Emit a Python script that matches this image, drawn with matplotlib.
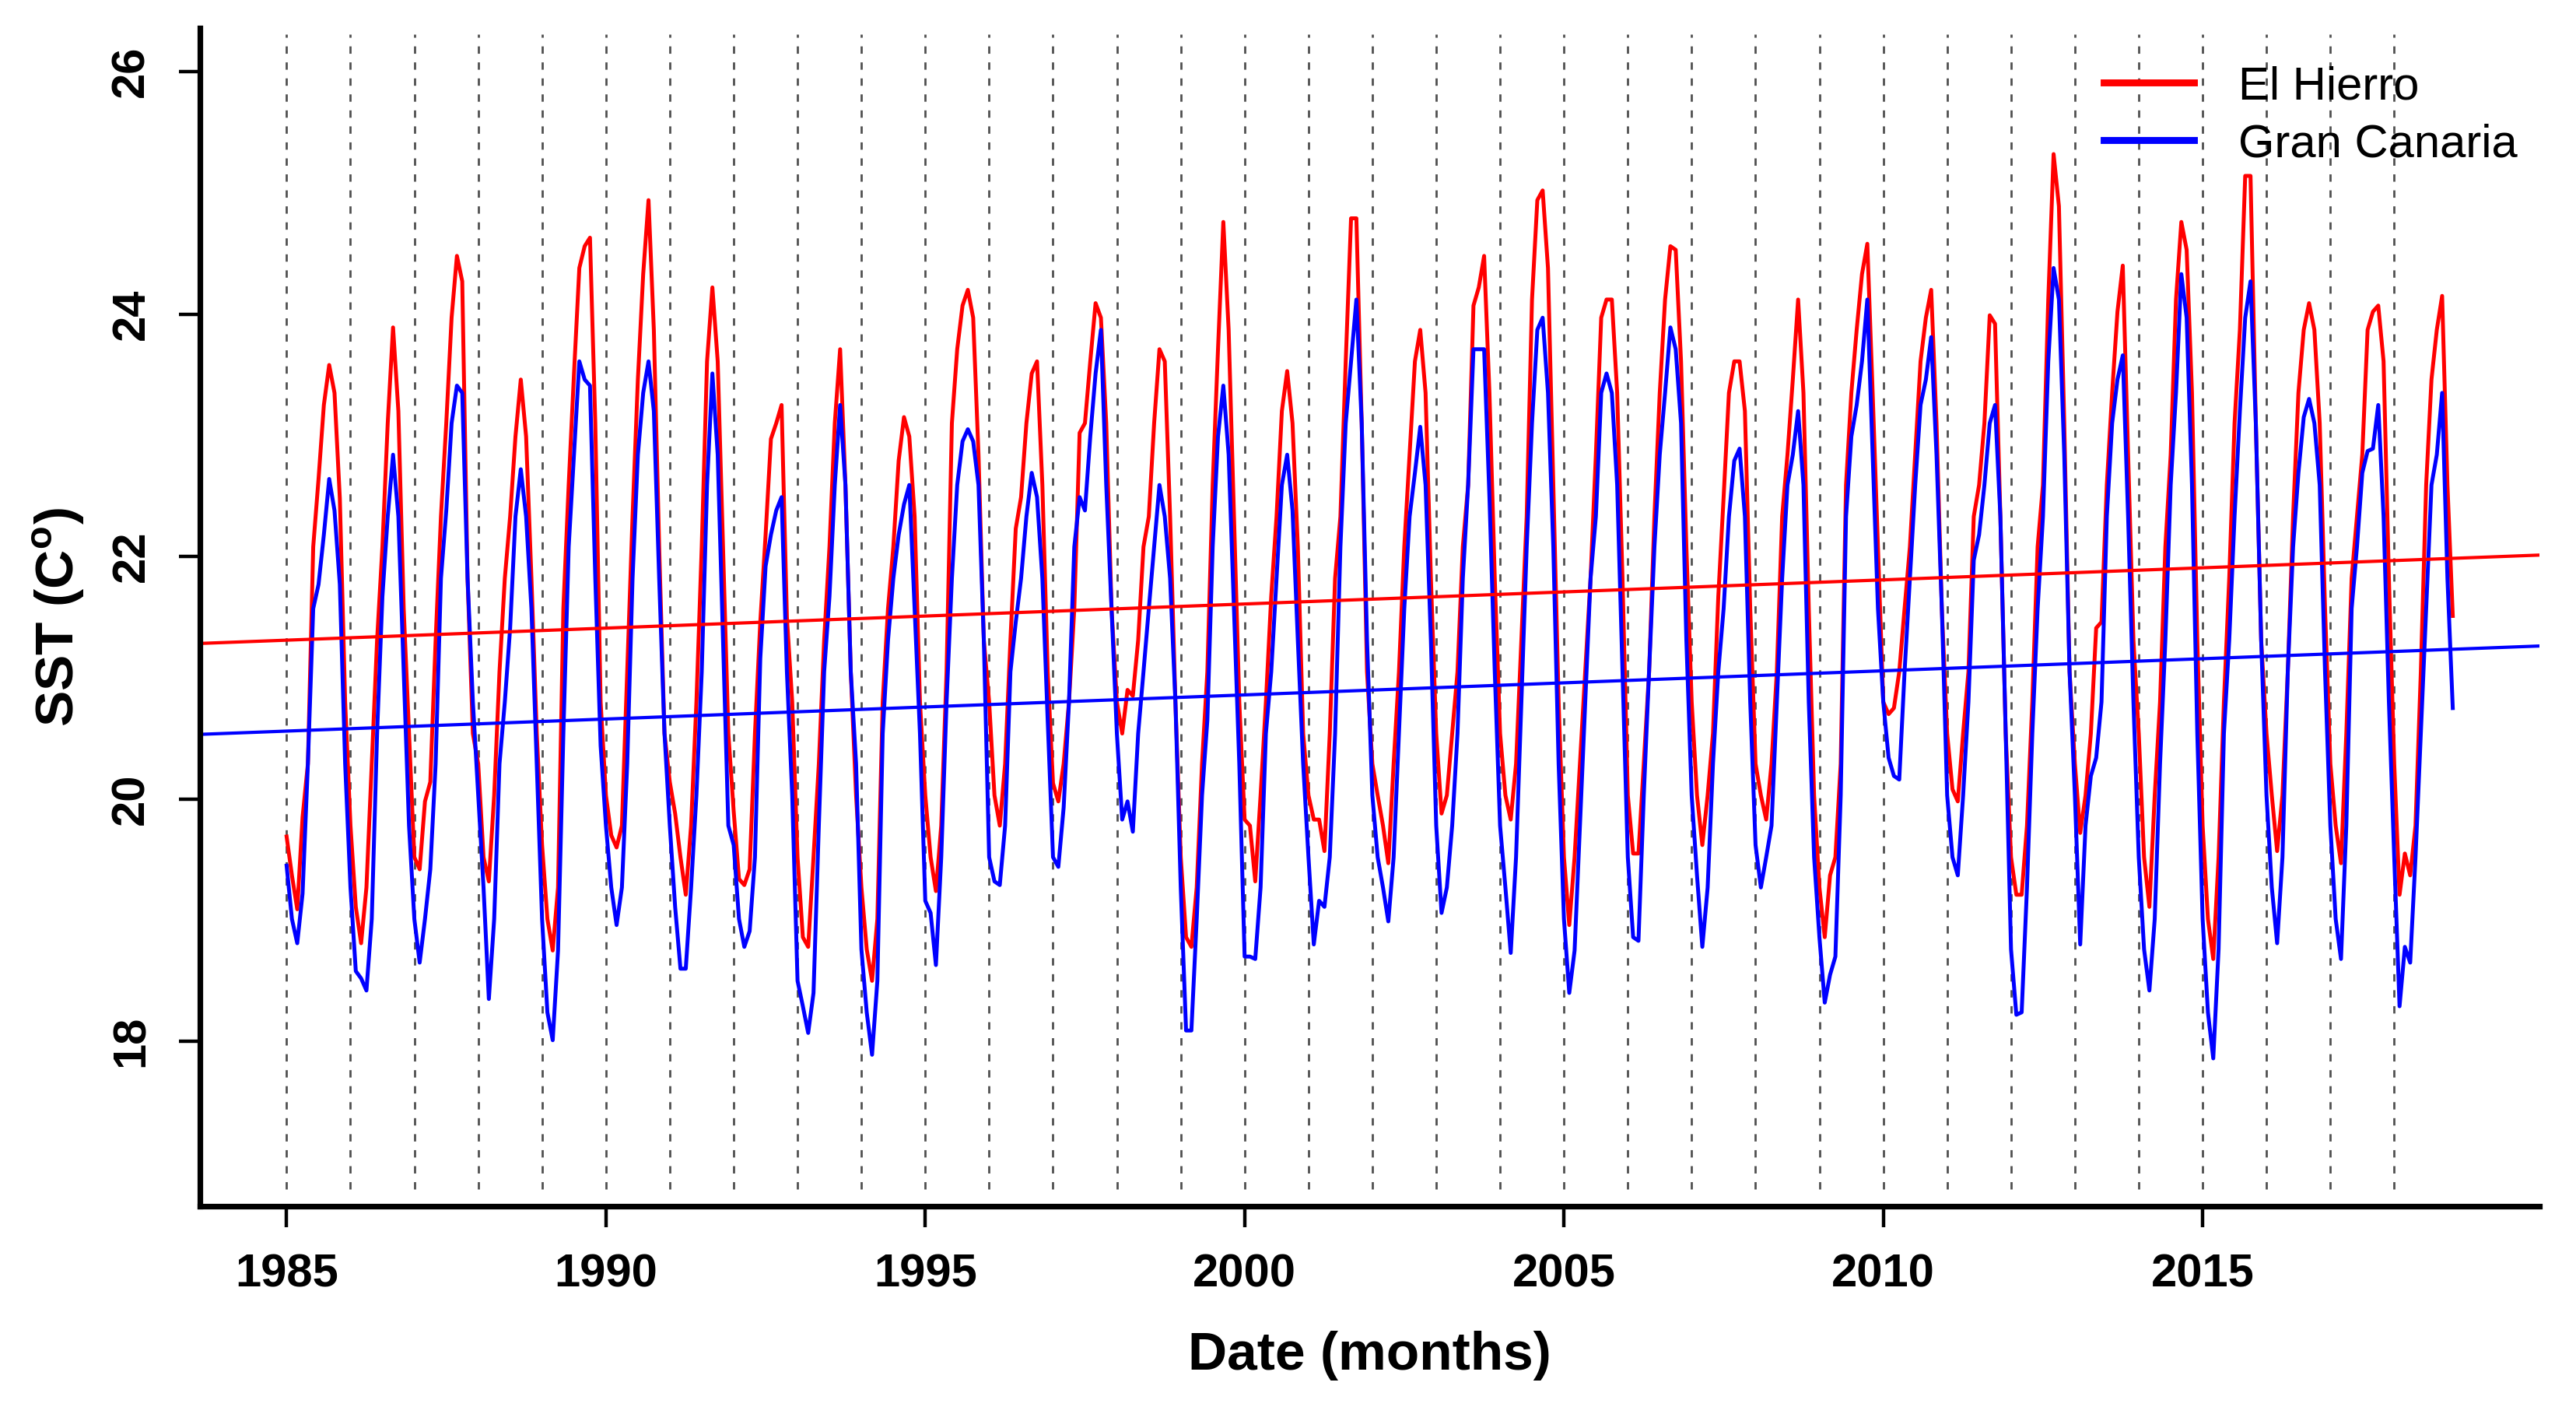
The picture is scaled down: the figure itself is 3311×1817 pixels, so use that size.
import numpy as np
import matplotlib
matplotlib.use('Agg')
import matplotlib.pyplot as plt
from matplotlib.lines import Line2D

plt.rcParams['font.family'] = ['Liberation Sans', 'DejaVu Sans']
plt.rcParams['mathtext.fontset'] = 'custom'
plt.rcParams['mathtext.rm'] = 'Liberation Sans:bold'
plt.rcParams['mathtext.bf'] = 'Liberation Sans:bold'
plt.rcParams['lines.scale_dashes'] = False

# monthly SST, Jan 1985 - Dec 2018 (one row per year)
start_year = 1985
el_hierro = [
    19.69, 19.37, 19.09, 19.85, 20.29, 22.08, 22.64, 23.25, 23.58, 23.35, 22.48, 20.80,  # 1985
    19.78, 19.11, 18.81, 19.27, 20.29, 21.31, 22.08, 23.10, 23.89, 23.20, 21.57, 20.54,  # 1986
    19.52, 19.42, 19.98, 20.14, 21.31, 22.33, 23.10, 23.97, 24.48, 24.27, 21.82, 20.54,  # 1987
    20.29, 19.52, 19.32, 20.03, 21.05, 21.82, 22.33, 22.99, 23.46, 22.99, 21.82, 20.54,  # 1988
    19.62, 19.01, 18.75, 19.27, 21.57, 22.59, 23.51, 24.38, 24.56, 24.63, 23.10, 20.80,  # 1989
    20.03, 19.70, 19.60, 19.78, 21.05, 22.33, 23.46, 24.33, 24.94, 23.87, 22.08, 20.54,  # 1990
    20.14, 19.88, 19.52, 19.21, 19.78, 20.80, 22.08, 23.61, 24.22, 23.61, 22.08, 20.54,  # 1991
    19.90, 19.34, 19.29, 19.42, 20.54, 21.46, 22.18, 22.97, 23.10, 23.25, 21.50, 20.80,  # 1992
    19.52, 18.86, 18.78, 19.52, 20.29, 21.31, 22.08, 23.10, 23.71, 22.59, 21.05, 20.03,  # 1993
    19.27, 18.76, 18.50, 19.01, 20.80, 21.57, 22.08, 22.79, 23.15, 22.99, 22.33, 20.80,  # 1994
    20.03, 19.52, 19.24, 19.78, 21.05, 23.10, 23.71, 24.07, 24.20, 23.97, 22.84, 21.31,  # 1995
    20.80, 20.03, 19.78, 20.29, 21.31, 22.23, 22.49, 23.10, 23.51, 23.61, 22.59, 21.05,  # 1996
    20.13, 19.98, 20.29, 20.80, 21.57, 23.02, 23.10, 23.61, 24.09, 23.97, 23.10, 21.57,  # 1997
    20.80, 20.54, 20.90, 20.85, 21.31, 22.08, 22.33, 23.10, 23.71, 23.61, 22.33, 20.80,  # 1998
    19.52, 18.86, 18.78, 19.27, 20.29, 21.05, 22.59, 23.71, 24.76, 23.87, 22.33, 20.80,  # 1999
    19.83, 19.78, 19.32, 20.03, 20.80, 21.67, 22.33, 23.20, 23.53, 23.10, 22.08, 20.54,  # 2000
    20.03, 19.83, 19.83, 19.57, 20.54, 21.82, 22.33, 23.61, 24.79, 24.79, 23.10, 21.05,  # 2001
    20.29, 20.03, 19.78, 19.47, 20.29, 21.05, 22.08, 22.84, 23.61, 23.87, 23.35, 21.82,  # 2002
    20.54, 19.88, 20.03, 20.54, 21.05, 22.08, 22.59, 24.07, 24.22, 24.48, 23.35, 21.82,  # 2003
    20.54, 20.03, 19.83, 20.29, 21.31, 22.33, 24.12, 24.94, 25.02, 24.38, 22.59, 20.80,  # 2004
    19.52, 18.96, 19.52, 20.29, 21.05, 21.82, 22.84, 23.97, 24.12, 24.12, 23.35, 21.82,  # 2005
    20.03, 19.55, 19.55, 20.29, 21.05, 22.33, 23.35, 24.12, 24.56, 24.53, 23.61, 22.08,  # 2006
    20.80, 20.03, 19.62, 20.03, 20.54, 21.67, 22.49, 23.35, 23.61, 23.61, 23.20, 21.57,  # 2007
    20.29, 20.03, 19.83, 20.29, 21.05, 22.33, 22.84, 23.46, 24.12, 23.35, 21.57, 20.03,  # 2008
    19.27, 18.86, 19.37, 19.52, 20.29, 22.59, 23.35, 23.87, 24.33, 24.58, 23.35, 22.08,  # 2009
    20.80, 20.70, 20.75, 21.05, 21.57, 22.08, 22.84, 23.61, 23.97, 24.20, 23.10, 21.57,  # 2010
    20.54, 20.08, 19.98, 20.54, 21.05, 22.33, 22.59, 23.10, 23.99, 23.92, 22.33, 20.54,  # 2011
    19.52, 19.21, 19.21, 19.78, 20.80, 22.08, 22.59, 24.12, 25.32, 24.89, 23.10, 21.05,  # 2012
    20.29, 19.72, 20.03, 20.54, 21.41, 21.46, 22.59, 23.35, 24.02, 24.40, 22.84, 21.31,  # 2013
    20.54, 19.52, 19.11, 20.03, 20.80, 22.08, 22.84, 24.12, 24.76, 24.53, 23.35, 21.31,  # 2014
    19.78, 19.01, 18.68, 19.52, 20.80, 21.82, 23.10, 23.87, 25.14, 25.14, 23.10, 21.31,  # 2015
    20.54, 20.03, 19.57, 20.03, 21.05, 22.33, 23.35, 23.87, 24.09, 23.87, 23.10, 21.57,  # 2016
    20.29, 19.78, 19.47, 20.54, 21.82, 22.33, 22.84, 23.87, 24.02, 24.07, 23.61, 21.82,  # 2017
    20.29, 19.21, 19.55, 19.37, 19.78, 21.05, 22.59, 23.46, 23.87, 24.15, 22.59, 21.51,  # 2018
]
gran_canaria = [
    19.45, 19.01, 18.81, 19.22, 20.29, 21.57, 21.77, 22.18, 22.64, 22.38, 21.77, 20.29,  # 1985
    19.27, 18.58, 18.52, 18.42, 19.01, 20.54, 21.67, 22.33, 22.84, 22.33, 21.05, 19.78,  # 1986
    19.01, 18.65, 19.01, 19.42, 20.29, 21.82, 22.38, 23.10, 23.41, 23.35, 21.82, 20.80,  # 1987
    20.03, 19.27, 18.35, 19.01, 20.29, 20.80, 21.41, 22.33, 22.72, 22.33, 21.57, 20.29,  # 1988
    19.01, 18.24, 18.01, 18.75, 20.54, 22.08, 22.84, 23.61, 23.46, 23.41, 21.82, 20.44,  # 1989
    19.78, 19.27, 18.96, 19.27, 20.29, 21.82, 22.84, 23.35, 23.61, 23.20, 21.82, 20.54,  # 1990
    19.78, 19.11, 18.60, 18.60, 19.27, 20.03, 21.05, 22.59, 23.51, 22.84, 21.31, 19.78,  # 1991
    19.62, 19.01, 18.78, 18.91, 19.52, 21.16, 21.92, 22.18, 22.38, 22.49, 21.05, 20.03,  # 1992
    18.50, 18.29, 18.07, 18.40, 19.78, 21.05, 21.67, 22.59, 23.25, 22.59, 21.05, 20.29,  # 1993
    18.76, 18.24, 17.89, 18.50, 20.54, 21.31, 21.82, 22.18, 22.43, 22.59, 21.57, 20.54,  # 1994
    19.16, 19.06, 18.63, 19.52, 20.80, 21.82, 22.59, 22.95, 23.05, 22.95, 22.59, 21.31,  # 1995
    19.52, 19.32, 19.29, 19.78, 21.05, 21.46, 21.82, 22.33, 22.69, 22.49, 21.82, 20.65,  # 1996
    19.52, 19.44, 19.93, 20.80, 22.08, 22.49, 22.38, 22.99, 23.51, 23.87, 22.59, 21.57,  # 1997
    20.54, 19.83, 19.98, 19.73, 20.54, 21.05, 21.57, 22.08, 22.59, 22.33, 21.82, 20.80,  # 1998
    19.27, 18.09, 18.09, 19.01, 20.03, 20.65, 22.08, 22.99, 23.41, 22.84, 21.57, 20.29,  # 1999
    18.70, 18.70, 18.68, 19.27, 20.54, 21.05, 21.82, 22.59, 22.84, 22.38, 21.31, 20.29,  # 2000
    19.52, 18.80, 19.16, 19.11, 19.52, 20.54, 22.08, 23.10, 23.61, 24.12, 23.10, 21.31,  # 2001
    20.03, 19.52, 19.27, 18.99, 19.52, 20.54, 21.57, 22.33, 22.69, 23.07, 22.59, 21.31,  # 2002
    19.78, 19.06, 19.27, 19.78, 20.54, 21.82, 22.59, 23.71, 23.71, 23.71, 22.49, 21.05,  # 2003
    19.78, 19.27, 18.73, 19.52, 20.80, 22.08, 23.10, 23.87, 23.97, 23.35, 22.08, 20.29,  # 2004
    19.01, 18.40, 18.75, 19.78, 20.80, 21.82, 22.33, 23.35, 23.51, 23.35, 22.59, 21.05,  # 2005
    19.52, 18.86, 18.83, 20.03, 21.05, 22.08, 22.84, 23.35, 23.89, 23.71, 23.10, 21.31,  # 2006
    20.03, 19.37, 18.78, 19.27, 20.29, 21.05, 21.57, 22.33, 22.79, 22.89, 22.33, 20.80,  # 2007
    19.62, 19.27, 19.52, 19.78, 20.80, 21.82, 22.59, 22.84, 23.20, 22.59, 20.80, 19.52,  # 2008
    18.86, 18.32, 18.55, 18.70, 20.03, 22.33, 22.99, 23.25, 23.61, 24.12, 22.84, 21.57,  # 2009
    20.80, 20.34, 20.19, 20.16, 21.05, 21.82, 22.59, 23.25, 23.46, 23.81, 22.84, 21.57,  # 2010
    20.03, 19.52, 19.37, 20.03, 20.80, 21.97, 22.18, 22.59, 23.10, 23.25, 22.33, 20.54,  # 2011
    18.76, 18.22, 18.24, 19.27, 20.54, 21.57, 22.33, 23.61, 24.38, 24.12, 22.84, 21.05,  # 2012
    20.03, 18.80, 19.78, 20.19, 20.34, 20.80, 22.33, 23.10, 23.46, 23.66, 22.33, 20.80,  # 2013
    19.52, 18.76, 18.42, 19.01, 20.29, 21.31, 22.59, 23.35, 24.33, 23.97, 22.59, 20.54,  # 2014
    19.01, 18.24, 17.86, 18.76, 20.54, 21.31, 22.33, 23.20, 23.97, 24.27, 23.10, 21.31,  # 2015
    20.03, 19.27, 18.81, 19.52, 21.05, 22.08, 22.69, 23.15, 23.30, 23.10, 22.59, 21.05,  # 2016
    19.78, 19.01, 18.68, 19.78, 21.57, 22.08, 22.69, 22.87, 22.89, 23.25, 22.33, 20.80,  # 2017
    19.52, 18.29, 18.78, 18.65, 19.52, 20.54, 21.57, 22.59, 22.84, 23.35, 21.82, 20.75,  # 2018
]
# linear trend of each series: value at 1985 and slope per year
trend_at_1985 = [21.31, 20.56]
trend_slope = [0.0199, 0.0199]

year_marks = list(range(1985, 2019))
x_ticks = [1985, 1990, 1995, 2000, 2005, 2010, 2015]
y_ticks = [18, 20, 22, 24, 26]
y_range = (17, 26)
labels = ['El Hierro', 'Gran Canaria']
colors = ['#ff0000', '#0000ff']

t = start_year + np.arange(len(el_hierro)) / 12.0

# R-style 4% padding on both axes
xpad = 0.04 * (t[-1] - t[0])
xlim = (t[0] - xpad, t[-1] + xpad)
ypad = 0.04 * (y_range[1] - y_range[0])
ylim = (y_range[0] - ypad, y_range[1] + ypad)

fig = plt.figure(figsize=(16.56, 9.085), dpi=200)
ax = fig.add_axes([0.0776, 0.1469, 0.9079, 0.8333])

# year separators
ax.vlines(year_marks, 16.78, 26.31, colors='#505050', linewidth=1.0,
          linestyles=[(0, (3.4, 4.0))])

ax.plot(t, el_hierro, color=colors[0], lw=1.8)
ax.plot(t, gran_canaria, color=colors[1], lw=1.8)

# trend lines across the whole plot width
xx = np.array(xlim)
for b0, b1, col in zip(trend_at_1985, trend_slope, colors):
    ax.plot(xx, b0 + b1 * (xx - 1985), color=col, lw=1.5)

ax.set_xlim(xlim)
ax.set_ylim(ylim)

for s in ['top', 'right']:
    ax.spines[s].set_visible(False)
for s in ['left', 'bottom']:
    ax.spines[s].set_linewidth(2.6)

ax.set_xticks(x_ticks)
ax.set_xticklabels([str(v) for v in x_ticks], fontsize=21.5, fontweight='bold')
ax.set_yticks(y_ticks)
ax.set_yticklabels([str(v) for v in y_ticks], fontsize=21.5, fontweight='bold',
                   rotation=90, va='center')
ax.tick_params(axis='x', direction='out', length=9.7, width=1.6, pad=12)
ax.tick_params(axis='y', direction='out', length=9.7, width=1.6, pad=12)

ax.set_xlabel('Date (months)', fontsize=25, fontweight='bold', labelpad=16)
ax.set_ylabel(r'SST (C$^{\mathrm{o}}$)', fontsize=25, fontweight='bold', labelpad=11)

handles = [Line2D([0], [0], color=colors[0], lw=3.2),
           Line2D([0], [0], color=colors[1], lw=3.2)]
ax.legend(handles, labels, loc='upper left',
          bbox_to_anchor=(2704 / 3312, 1 - 84 / 1817),
          bbox_transform=fig.transFigure, frameon=False, fontsize=21.5,
          handlelength=1.95, handletextpad=0.95, labelspacing=0.32,
          borderpad=0, borderaxespad=0)

fig.savefig('out.png', dpi=200)
